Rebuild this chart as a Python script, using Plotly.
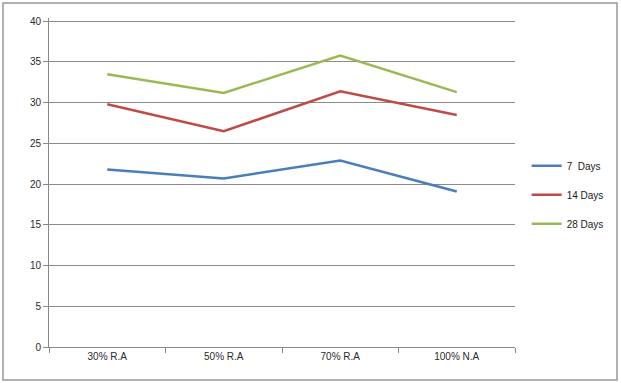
import plotly.graph_objects as go

categories = ["30% R.A", "50% R.A", "70% R.A", "100% N.A"]
days7 = [21.8, 20.7, 22.9, 19.1]
days14 = [29.8, 26.5, 31.4, 28.5]
days28 = [33.5, 31.2, 35.8, 31.3]
series_names = ["7  Days", "14 Days", "28 Days"]
colors = ["#4a7ebb", "#be4b48", "#98b954"]
y_ticks = [0, 5, 10, 15, 20, 25, 30, 35, 40]

fig = go.Figure()
for i, (name, vals, c) in enumerate(zip(series_names, [days7, days14, days28], colors)):
    fig.add_trace(go.Scatter(x=categories, y=vals, mode="lines", name=name,
                             legendgroup=f"g{i}",
                             line=dict(color=c, width=2.5)))

W, H = 621, 383
ymax = 40.4
ml, mr, mb = 49, 106, 36
ph = round(326 * ymax / 40)
mt = H - mb - ph
pw = W - ml - mr

fig.update_layout(
    width=W, height=H,
    margin=dict(l=ml, r=mr, t=mt, b=mb),
    paper_bgcolor="white", plot_bgcolor="white",
    font=dict(family="Liberation Sans", size=10, color="#2a2a2a"),
    legend=dict(x=1.025, y=0.595, xanchor="left", yanchor="top",
                font=dict(size=10, color="#1a1a1a"), tracegroupgap=10,
                traceorder="grouped",
                itemwidth=30, bgcolor="rgba(0,0,0,0)"),
    xaxis=dict(type="category", showgrid=False, showline=True, linecolor="#888888",
               linewidth=1, ticks="outside", tickson="boundaries", ticklen=5,
               tickcolor="#888888", range=[-0.5, 3.5], fixedrange=True),
    yaxis=dict(range=[0, ymax], tickvals=y_ticks, showgrid=True, gridcolor="#8c8c8c",
               gridwidth=1, showline=True, linecolor="#888888", linewidth=1,
               ticks="outside", ticklen=5, tickcolor="#888888", zeroline=False,
               fixedrange=True),
    shapes=[dict(type="rect", xref="paper", yref="paper",
                 x0=(3 - ml) / pw, x1=(617 - ml) / pw,
                 y0=(H - mb - 380) / ph, y1=(H - mb - 3) / ph,
                 line=dict(color="#999999", width=1.5), fillcolor="rgba(0,0,0,0)")],
    showlegend=True,
)

fig.write_html("out.html", config={"displayModeBar": False},
               post_script="document.body.style.margin='0';")
